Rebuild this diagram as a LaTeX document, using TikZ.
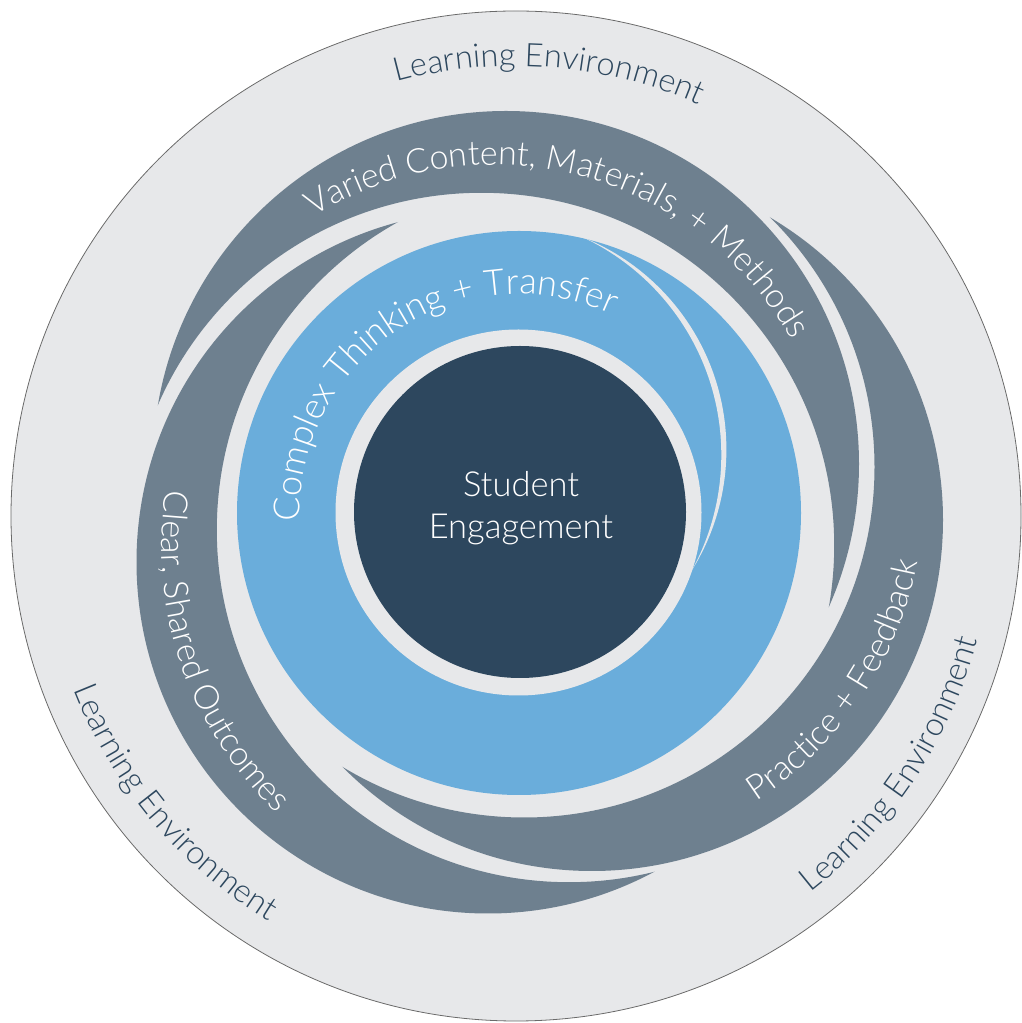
\documentclass[tikz,border=0pt]{standalone}
\usepackage{fontspec}
\setmainfont{Lato}[UprightFont=* Light]
\usetikzlibrary{decorations.text,calc}
\definecolor{bgray}{HTML}{E7E8EA}
\definecolor{bandc}{HTML}{6E808F}
\definecolor{blu}{HTML}{6AADDB}
\definecolor{navy}{HTML}{2D475E}
\definecolor{rim}{HTML}{6A6A6A}
\newcommand\bandfont{\fontsize{34}{34}\selectfont}
\newcommand\ringfont{\fontsize{36}{36}\selectfont}
\newcommand\envfont{\fontsize{32.5}{32.5}\selectfont}
\begin{document}
\begin{tikzpicture}[x=1pt,y=1pt]
\useasboundingbox (0,0) rectangle (1021,1023);
\coordinate (O) at (516,507);
\fill[bgray] (O) circle[radius=505];
\draw[rim, line width=0.8pt] (O) circle[radius=505];
% band A : Varied content
\coordinate (A1) at (506,559); \coordinate (A2) at (481.5,477.5);
\begin{scope}
\clip (A1) circle[radius=353];
\fill[bandc, even odd rule] (A1) circle[radius=358] (A2) circle[radius=352.7];
\end{scope}
% band B : Practice + Feedback
\coordinate (B1) at (592,503); \coordinate (B2) at (524,556);
\begin{scope}
\clip (B1) circle[radius=351];
\fill[bandc, even odd rule] (B1) circle[radius=356] (B2) circle[radius=350.5];
\end{scope}
% band C : Clear, Shared Outcomes
\coordinate (C1) at (488,461); \coordinate (C2) at (569,493);
\begin{scope}
\clip (C1) circle[radius=351.5];
\fill[bandc, even odd rule] (C1) circle[radius=356.5] (C2) circle[radius=352.2];
\end{scope}
% blue ring
\coordinate (Bl) at (519,510);
\fill[blu] (Bl) circle[radius=282];
\coordinate (Ta) at (497.9,573.5); \coordinate (Tb) at (481,568);
\begin{scope}
\clip (Ta) circle[radius=228.5];
\fill[bgray, even odd rule] (Ta) circle[radius=233] (Tb) circle[radius=240.3];
\end{scope}
\coordinate (Li) at (518.5,510.5);
\fill[bgray] (Li) circle[radius=183];
\coordinate (Dk) at (520,511);
\fill[navy] (Dk) circle[radius=166];
\node[align=center, text=white, font=\fontsize{34.5}{41.5}\selectfont] (se) at (521,515) {Student\\Engagement};
% texts along paths
\coordinate (TA) at (494,518);
\path[decorate, decoration={text along path, text align=center,
  text={|\color{white}\bandfont|Varied Content, Materials, + Methods}}]
  ($(TA)+(145.5:340)$) arc[start angle=145.5, end angle=5.5, radius=340];
\coordinate (TB) at (558,529.5);
\path[decorate, decoration={text along path, text align=center,
  text={|\color{white}\bandfont|Practice + Feedback}}]
  ($(TB)+(-79:366)$) arc[start angle=-79, end angle=11, radius=366];
\coordinate (TC) at (528.5,477);
\path[decorate, decoration={text along path, text align=center,
  text={|\color{white}\bandfont|Clear, Shared Outcomes}}]
  ($(TC)+(149:367)$) arc[start angle=149, end angle=249, radius=367];
\path[decorate, decoration={text along path, text align=center,
  text={|\color{white}\ringfont|Complex Thinking + Transfer}}]
  ($(Bl)+(203.5:219)$) arc[start angle=203.5, end angle=43.5, radius=219];
\path[decorate, decoration={text along path, text align=center,
  text={|\color{navy}\envfont|Learning Environment}}]
  ($(O)+(125.7:450)$) arc[start angle=125.7, end angle=45.7, radius=450];
\path[decorate, decoration={text along path, text align=center,
  text={|\color{navy}\envfont|Learning Environment}}]
  ($(O)+(-73.5:478)$) arc[start angle=-73.5, end angle=6.5, radius=478];
\path[decorate, decoration={text along path, text align=center,
  text={|\color{navy}\envfont|Learning Environment}}]
  ($(O)+(180:475)$) arc[start angle=180, end angle=260, radius=475];
\end{tikzpicture}
\end{document}
